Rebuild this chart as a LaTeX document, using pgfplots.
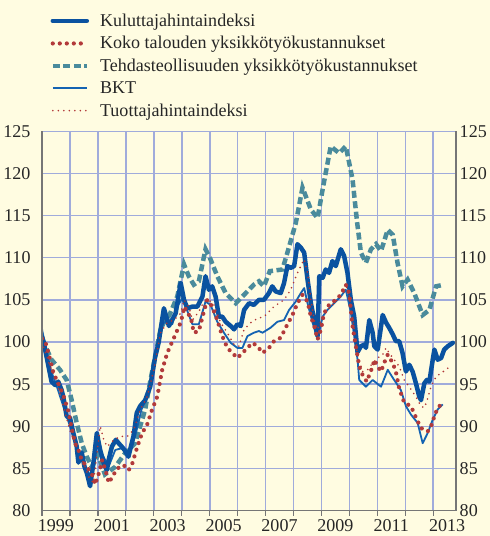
\documentclass[border=0pt]{standalone}
\usepackage{fontspec}
\setmainfont{Liberation Serif}
\usepackage{pgfplots}
\pgfplotsset{compat=1.18}
\definecolor{cream}{HTML}{FFFCE1}
\definecolor{gridc}{HTML}{A0ABDB}
\definecolor{cpi}{HTML}{0A52A0}
\definecolor{koko}{HTML}{B23A3A}
\definecolor{tehdas}{HTML}{4A8B9C}
\definecolor{bkt}{HTML}{1463B2}
\definecolor{tuot}{HTML}{B03535}
\definecolor{axc}{HTML}{767676}

\pgfplotstableread{
x y
1999.00 100.6
1999.05 100.1
1999.34 95.3
1999.47 94.9
1999.58 95.3
1999.70 94.3
1999.76 93.5
1999.88 91.2
2000.00 91.0
2000.12 89.2
2000.24 87.6
2000.30 85.7
2000.42 86.9
2000.52 85.2
2000.60 84.5
2000.72 82.9
2000.84 85.7
2000.96 89.2
2001.08 87.2
2001.20 85.7
2001.32 84.8
2001.38 86.0
2001.50 87.6
2001.64 88.4
2001.74 88.0
2001.85 87.6
2001.95 87.2
2002.09 86.4
2002.27 88.8
2002.39 91.6
2002.51 92.4
2002.69 93.1
2002.87 94.7
2003.05 98.3
2003.17 99.9
2003.36 104.0
2003.54 101.9
2003.78 103.4
2003.96 107.0
2004.08 105.0
2004.20 104.0
2004.38 104.2
2004.56 104.2
2004.74 105.4
2004.85 107.8
2004.97 106.2
2005.09 106.6
2005.21 105.4
2005.33 103.0
2005.45 103.0
2005.57 102.4
2005.75 101.9
2005.87 101.5
2005.99 102.1
2006.11 101.9
2006.23 103.8
2006.41 104.6
2006.58 104.4
2006.76 105.0
2006.94 105.0
2007.12 105.8
2007.24 106.6
2007.36 106.0
2007.54 105.8
2007.66 107.0
2007.78 109.0
2007.90 108.8
2008.02 109.0
2008.14 111.6
2008.26 111.2
2008.38 110.6
2008.50 107.4
2008.62 104.6
2008.74 102.6
2008.86 100.7
2008.92 107.8
2009.04 107.6
2009.15 108.6
2009.27 108.2
2009.39 109.6
2009.51 109.0
2009.69 111.0
2009.81 110.2
2009.93 108.2
2010.05 105.0
2010.17 103.0
2010.29 98.8
2010.41 99.5
2010.53 99.7
2010.59 99.3
2010.71 102.6
2010.83 101.1
2010.89 99.5
2011.01 99.1
2011.19 103.2
2011.31 102.3
2011.42 101.7
2011.55 100.9
2011.66 100.1
2011.78 100.1
2011.90 98.7
2012.02 96.5
2012.14 97.3
2012.26 96.5
2012.38 95.1
2012.50 93.5
2012.56 93.1
2012.68 95.1
2012.77 95.5
2012.86 95.3
2012.98 97.9
2013.04 99.1
2013.16 97.9
2013.28 98.1
2013.39 99.1
2013.52 99.5
2013.70 99.9
}\cpitab

\pgfplotstableread{
x y
1999.00 100.4
1999.11 100.1
1999.23 98.7
1999.41 96.3
1999.58 95.1
1999.76 93.7
1999.94 91.8
2000.06 89.8
2000.18 88.0
2000.30 87.2
2000.42 86.0
2000.60 85.2
2000.78 84.4
2000.90 83.1
2001.03 84.4
2001.15 86.0
2001.27 84.8
2001.39 83.3
2001.51 84.0
2001.69 85.0
2001.92 85.4
2002.10 84.8
2002.23 85.6
2002.41 87.6
2002.58 89.2
2002.76 90.2
2002.94 92.0
2003.12 93.5
2003.30 96.7
2003.48 98.7
2003.72 100.5
2003.96 102.3
2004.10 104.2
2004.20 103.4
2004.32 103.0
2004.43 101.1
2004.61 101.3
2004.79 103.6
2004.91 105.0
2005.09 104.2
2005.27 102.6
2005.45 100.7
2005.63 99.3
2005.81 98.7
2005.99 98.1
2006.17 98.7
2006.35 99.3
2006.53 99.9
2006.71 99.5
2006.89 98.7
2007.12 99.3
2007.30 100.1
2007.54 100.5
2007.78 102.1
2007.96 103.2
2008.14 104.6
2008.32 105.6
2008.50 104.8
2008.62 103.0
2008.74 101.9
2008.86 100.3
2008.98 101.5
2009.09 103.4
2009.27 104.4
2009.51 105.0
2009.69 105.6
2009.87 106.8
2009.99 105.8
2010.11 101.9
2010.23 99.5
2010.35 97.1
2010.47 96.1
2010.62 95.3
2010.71 96.1
2010.83 97.1
2010.89 97.9
2011.01 97.1
2011.13 96.5
2011.24 97.5
2011.37 98.5
2011.55 97.5
2011.66 96.5
2011.78 94.5
2011.96 92.8
2012.20 92.4
2012.44 90.6
2012.56 89.8
2012.80 89.4
2012.92 90.0
2013.04 91.2
2013.16 92.2
2013.28 92.6
}\kokotab

\pgfplotstableread{
x y
1999.00 100.3
1999.34 97.9
1999.64 96.7
1999.88 95.5
2000.06 93.1
2000.24 90.4
2000.42 88.0
2000.60 86.4
2000.78 85.2
2001.00 86.6
2001.25 84.3
2001.62 85.2
2001.97 86.8
2002.33 88.0
2002.69 92.0
2002.88 95.5
2003.24 101.5
2003.36 102.3
2003.56 103.2
2003.84 105.4
2004.08 109.2
2004.25 107.8
2004.43 106.8
2004.61 107.2
2004.85 111.0
2005.03 109.8
2005.27 107.8
2005.57 105.8
2005.93 104.6
2006.23 105.6
2006.58 106.8
2006.76 107.2
2006.94 106.6
2007.15 108.4
2007.60 108.6
2007.78 110.6
2008.08 114.1
2008.32 118.3
2008.62 115.7
2008.86 114.7
2009.04 118.1
2009.33 123.2
2009.63 122.4
2009.87 123.2
2010.11 119.3
2010.27 114.3
2010.41 110.6
2010.59 109.4
2010.77 111.0
2010.95 111.6
2011.13 110.8
2011.37 113.3
2011.55 112.7
2011.72 109.4
2011.90 106.6
2012.08 107.4
2012.32 105.8
2012.62 103.2
2012.86 103.8
2013.10 106.6
2013.39 106.8
}\tehtab

\pgfplotstableread{
x y
1999.00 101.5
1999.25 97.2
1999.50 95.0
1999.75 92.5
2000.00 90.0
2000.25 87.5
2000.50 85.5
2000.75 84.0
2000.96 88.6
2001.08 87.2
2001.38 85.2
2001.62 87.2
2001.85 87.4
2002.09 86.8
2002.33 88.8
2002.56 92.0
2002.80 93.8
2003.00 97.2
2003.24 101.9
2003.48 102.6
2003.66 102.1
2003.84 104.2
2004.02 105.2
2004.14 104.2
2004.38 102.1
2004.61 102.1
2004.85 104.8
2005.03 104.4
2005.27 102.4
2005.51 101.1
2005.75 99.9
2005.99 99.3
2006.17 99.3
2006.35 100.7
2006.58 101.1
2006.76 101.3
2006.89 101.1
2007.18 101.7
2007.42 102.4
2007.66 102.6
2007.84 103.8
2008.08 104.8
2008.26 105.8
2008.38 106.4
2008.50 104.6
2008.68 102.3
2008.86 100.3
2009.04 103.0
2009.21 103.8
2009.45 104.6
2009.69 105.4
2009.87 106.2
2010.05 103.5
2010.29 97.9
2010.35 95.5
2010.59 94.7
2010.83 95.5
2011.13 94.7
2011.37 96.7
2011.60 95.5
2011.84 94.3
2012.02 92.4
2012.20 91.4
2012.44 90.4
2012.62 88.0
2012.80 89.2
2012.98 90.8
2013.16 92.0
2013.34 92.6
}\bkttab

\pgfplotstableread{
x y
1999.00 100.0
1999.25 97.5
1999.50 95.5
1999.75 92.5
2000.00 89.5
2000.25 87.5
2000.50 85.5
2000.70 83.8
2000.84 83.3
2001.08 90.0
2001.21 88.4
2001.33 87.6
2001.57 88.4
2001.81 88.8
2002.05 88.8
2002.28 89.6
2002.52 92.0
2002.76 93.5
2003.00 96.7
2003.24 101.1
2003.48 102.3
2003.72 102.6
2003.96 103.4
2004.08 105.0
2004.25 104.2
2004.38 102.6
2004.61 103.6
2004.79 104.8
2004.97 105.0
2005.15 104.4
2005.39 102.3
2005.63 101.1
2005.87 99.7
2006.05 99.5
2006.23 101.5
2006.47 102.3
2006.71 102.8
2006.94 103.0
2007.30 104.2
2007.66 105.0
2007.90 106.2
2008.14 108.2
2008.38 109.8
2008.50 108.2
2008.62 105.0
2008.74 102.6
2008.86 101.5
2008.98 102.6
2009.22 103.8
2009.45 104.6
2009.69 105.4
2009.93 106.6
2010.11 103.0
2010.29 98.5
2010.47 96.5
2010.65 96.7
2010.83 97.5
2011.01 98.1
2011.19 98.5
2011.31 99.3
2011.42 98.7
2011.60 97.9
2011.78 97.1
2011.96 95.5
2012.14 94.7
2012.38 93.5
2012.56 92.4
2012.68 92.2
2012.80 93.3
2012.92 94.7
2013.10 95.9
2013.28 96.3
2013.52 96.9
}\tuottab

\tikzset{
  cpistyle/.style={cpi, line width=4.5pt, line join=round, line cap=round},
  kokostyle/.style={koko, line width=4.2pt, line cap=round, dash pattern=on 0pt off 7pt},
  tehstyle/.style={tehdas, line width=4.5pt, dash pattern=on 7pt off 3.5pt},
  bktstyle/.style={bkt, line width=1.8pt, line join=round},
  tuotstyle/.style={tuot, line width=1.8pt, line cap=round, dash pattern=on 0pt off 5.5pt},
  gridline/.style={draw=gridc, line width=1.6pt},
}

\begin{document}
\begin{tikzpicture}
\path[use as bounding box, fill=cream] (-42pt,-25.3pt) rectangle (447pt,510pt);
\begin{axis}[
  at={(0pt,0pt)}, anchor=south west,
  scale only axis, width=413.6pt, height=379pt,
  xmin=1999, xmax=2013.82, ymin=80, ymax=125,
  xtick={1999,...,2013},
  xticklabels={1999,,2001,,2003,,2005,,2007,,2009,,2011,,2013},
  xticklabel style={xshift=13.9pt},
  ytick={80,85,...,125},
  yticklabel style={xshift=-3pt},
  /pgf/number format/assume math mode=true,
  tick label style={font=\fontsize{18}{21}\selectfont, text=black!85},
  axis line style={draw=none},
  xtick pos=lower,
  tick align=outside,
  major tick length=5pt,
  xtick style={draw=axc, line width=1.2pt},
  ytick style={draw=none},
  legend style={at={(rel axis cs:0.02,1.315)}, anchor=north west, draw=none, fill=none,
    font=\fontsize{18}{22}\selectfont, text=black!85, row sep=4.6pt, inner sep=0pt,
    cells={anchor=west},
    /tikz/every odd column/.append style={column sep=9pt}},
  legend image code/.code={\draw[#1] (0pt,0pt) -- (34pt,0pt);},
  clip=true,
]
\pgfplotsinvokeforeach{2000,2001,2002,2003,2004,2005,2006,2007,2008,2009,2010,2011,2012,2013}{
  \draw[gridline] (axis cs:#1,80) -- (axis cs:#1,125);
}
\pgfplotsinvokeforeach{85,90,95,100,105,110,115,120,125}{
  \draw[gridline] (axis cs:1999,#1) -- (axis cs:2013.82,#1);
}
\addlegendimage{cpistyle}
\addlegendentry{Kuluttajahintaindeksi}
\addlegendimage{kokostyle}
\addlegendentry{Koko talouden yksikkötyökustannukset}
\addlegendimage{tehstyle}
\addlegendentry{Tehdasteollisuuden yksikkötyökustannukset}
\addlegendimage{bktstyle}
\addlegendentry{BKT}
\addlegendimage{tuotstyle}
\addlegendentry{Tuottajahintaindeksi}

\addplot[tehstyle, forget plot] table {\tehtab};
\addplot[bktstyle, forget plot] table {\bkttab};
\addplot[cpistyle, forget plot] table {\cpitab};
\addplot[tuotstyle, forget plot] table {\tuottab};
\addplot[kokostyle, forget plot] table {\kokotab};
\end{axis}
\begin{axis}[
  at={(0pt,0pt)}, anchor=south west,
  scale only axis, width=413.6pt, height=379pt,
  xmin=1999, xmax=2013.82, ymin=80, ymax=125,
  xtick=\empty,
  ytick={80,85,...,125},
  yticklabel pos=right,
  ytick style={draw=none},
  axis line style={draw=none},
  /pgf/number format/assume math mode=true,
  tick label style={font=\fontsize{18}{21}\selectfont, text=black!85},
  clip=false,
]
\addplot[draw=none, forget plot] coordinates {(2005,110)};
\draw[axc, line width=1.5pt] (rel axis cs:0,0) -- (rel axis cs:1,0);
\draw[axc, line width=2.2pt] (rel axis cs:0,0) -- (rel axis cs:0,1);
\draw[axc, line width=2.2pt] (rel axis cs:1,0) -- (rel axis cs:1,1);
\end{axis}
\end{tikzpicture}
\end{document}
